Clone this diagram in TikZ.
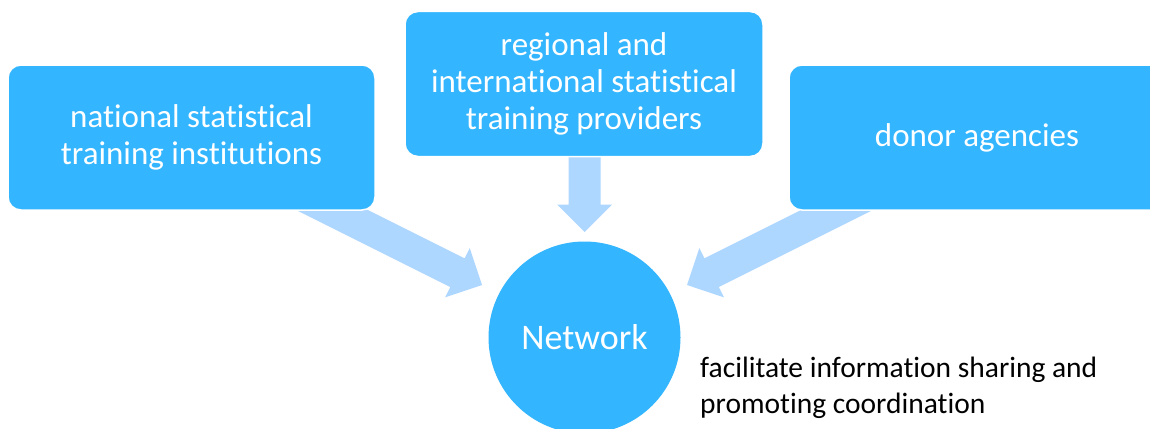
\documentclass[tikz,border=0pt]{standalone}
\usepackage{fontspec}
\setmainfont{Carlito}[Ligatures=NoCommon]
\usetikzlibrary{calc}
\definecolor{boxblue}{RGB}{51,182,255}
\definecolor{arrowblue}{RGB}{173,215,255}
\newcommand\blockarrow[3]{%
  \coordinate (#1h) at ($(#3)!27.5pt!(#2)$);
  \fill[arrowblue] ($(#2)!16pt!90:(#3)$) -- ($(#1h)!16pt!90:(#3)$) -- ($(#1h)!27.5pt!90:(#3)$) -- (#3)
    -- ($(#1h)!27.5pt!-90:(#3)$) -- ($(#1h)!16pt!-90:(#3)$) -- ($(#2)!16pt!-90:(#3)$) -- cycle;}
\tikzset{
  sbox/.style={draw=white, line width=1.5pt, fill=boxblue, rounded corners=13pt, text=white,
    align=center, inner sep=0pt, font=\fontsize{33}{37}\selectfont},
  netc/.style={circle, fill=boxblue, text=white, inner sep=0pt, minimum size=192pt,
    font=\fontsize{36}{40}\selectfont},
  note/.style={align=left, inner sep=0pt, anchor=base west, font=\fontsize{29.5}{36}\selectfont}
}
\begin{document}
\begin{tikzpicture}[x=1pt,y=-1pt]
\clip (0,0) rectangle (1150,428);
\fill[white] (0,0) rectangle (1150,428);
% arrow tails/tips
\coordinate (lt) at (290,189);
\coordinate (lp) at (482,285);
\coordinate (mt) at (584.5,140);
\coordinate (mp) at (584.5,232);
\coordinate (rt) at (879,189);
\coordinate (rp) at (687,285);
\blockarrow{la}{lt}{lp}
\blockarrow{ma}{mt}{mp}
\blockarrow{ra}{rt}{rp}
% boxes
\node[sbox, minimum width=367pt, minimum height=145pt] (nat) at (191.5,137.5)
  {national statistical\\training institutions};
\node[sbox, minimum width=358pt, minimum height=145pt] (reg) at (584,84)
  {regional and\\international statistical\\training providers};
\node[sbox, minimum width=376pt, minimum height=145pt] (don) at (977,137.5)
  {donor agencies};
\node[netc] (net) at (584.5,337.5) {Network};
\node[note] (fac) at (700,413) {facilitate information sharing and\\promoting coordination};
\end{tikzpicture}
\end{document}
